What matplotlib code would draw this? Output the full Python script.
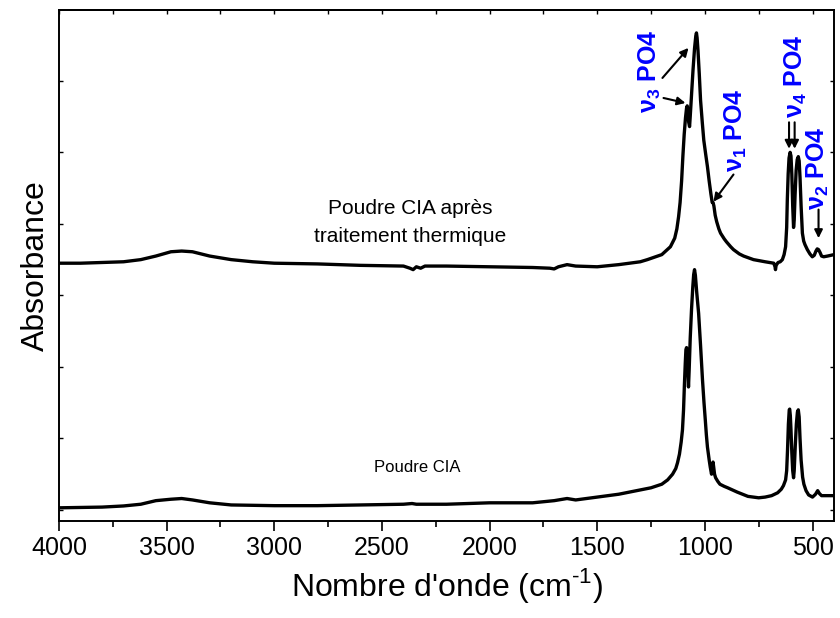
import matplotlib
matplotlib.use("Agg")
import matplotlib.pyplot as plt
from matplotlib.ticker import MultipleLocator, NullFormatter

plt.rcParams['font.family'] = ['Liberation Sans', 'DejaVu Sans']
plt.rcParams['mathtext.fontset'] = 'custom'
plt.rcParams['mathtext.rm'] = 'Liberation Sans'
plt.rcParams['mathtext.bf'] = 'Liberation Sans:bold'

# Spectrum of the heat-treated powder (stacked above the raw one)
wn_treated = [4000, 3900, 3800, 3700, 3620, 3550, 3480, 3430, 3380, 3300, 3200, 3100,
              3000, 2800, 2600, 2400, 2370, 2355, 2340, 2320, 2300, 2200, 2000, 1800,
              1720, 1700, 1680, 1640, 1600, 1500, 1400, 1300, 1267, 1200, 1160, 1140,
              1130, 1122, 1115, 1108, 1102, 1096, 1090, 1085, 1082, 1079, 1075, 1071,
              1068, 1062, 1055, 1048, 1042, 1039, 1036, 1032, 1026, 1020, 1012, 1005,
              996, 988, 980, 972, 966, 962, 958, 952, 945, 935, 927, 910, 900, 880,
              867, 840, 820, 774, 720, 680, 674, 672, 669, 660, 650, 640, 632, 625,
              620, 617, 613, 609, 604, 600, 596, 592, 588, 585, 581, 576, 571, 566,
              562, 558, 553, 547, 541, 535, 524, 512, 501, 492, 484, 478, 472, 465,
              458, 448, 430, 400]
abs_treated = [3.45, 3.45, 3.46, 3.47, 3.50, 3.55, 3.61, 3.62, 3.61, 3.55, 3.50, 3.47,
               3.45, 3.44, 3.42, 3.41, 3.38, 3.36, 3.40, 3.38, 3.41, 3.41, 3.40, 3.39,
               3.38, 3.37, 3.40, 3.43, 3.41, 3.40, 3.43, 3.47, 3.50, 3.57, 3.68, 3.80,
               3.93, 4.10, 4.30, 4.60, 4.95, 5.25, 5.48, 5.62, 5.65, 5.60, 5.42, 5.36,
               5.50, 5.80, 6.15, 6.45, 6.63, 6.67, 6.60, 6.43, 6.10, 5.73, 5.42, 5.17,
               4.97, 4.80, 4.60, 4.42, 4.30, 4.30, 4.25, 4.12, 4.03, 3.93, 3.87, 3.79,
               3.75, 3.68, 3.64, 3.58, 3.55, 3.50, 3.47, 3.45, 3.40, 3.36, 3.42, 3.46,
               3.47, 3.50, 3.57, 3.68, 3.95, 4.34, 4.70, 4.92, 5.00, 4.95, 4.69, 4.25,
               3.95, 4.05, 4.40, 4.75, 4.90, 4.94, 4.88, 4.65, 4.25, 3.87, 3.76, 3.71,
               3.64, 3.58, 3.54, 3.56, 3.62, 3.65, 3.64, 3.60, 3.55, 3.54, 3.55, 3.57]

# Spectrum of the raw powder
wn_raw = [4000, 3900, 3800, 3700, 3620, 3550, 3480, 3430, 3380, 3300, 3200, 3000,
          2800, 2600, 2400, 2360, 2340, 2200, 2000, 1900, 1800, 1700, 1640, 1600,
          1500, 1400, 1300, 1250, 1200, 1173, 1150, 1135, 1127, 1118, 1110, 1104,
          1099, 1095, 1091, 1088, 1085, 1082, 1079, 1076, 1073, 1068, 1062, 1056,
          1052, 1048, 1044, 1038, 1029, 1020, 1011, 1004, 998, 993, 988, 980, 975,
          969, 965, 962, 959, 955, 950, 940, 930, 910, 894, 850, 800, 750, 720, 690,
          662, 645, 635, 625, 620, 616, 612, 608, 606, 603, 600, 596, 592, 588, 585,
          580, 575, 570, 566, 562, 558, 553, 546, 540, 530, 518, 500, 486, 476, 468,
          458, 440, 400]
abs_raw = [0.03, 0.035, 0.04, 0.056, 0.08, 0.13, 0.15, 0.16, 0.14, 0.10, 0.07, 0.06,
           0.06, 0.07, 0.08, 0.09, 0.08, 0.08, 0.10, 0.10, 0.10, 0.13, 0.16, 0.14,
           0.18, 0.22, 0.28, 0.31, 0.36, 0.42, 0.50, 0.58, 0.66, 0.78, 0.95, 1.12,
           1.40, 1.75, 2.05, 2.24, 2.27, 2.18, 1.95, 1.72, 1.95, 2.40, 2.80, 3.12,
           3.29, 3.36, 3.28, 3.05, 2.75, 2.30, 1.82, 1.50, 1.26, 1.05, 0.88, 0.70, 0.60,
           0.50, 0.60, 0.67, 0.60, 0.50, 0.45, 0.40, 0.36, 0.33, 0.31, 0.25, 0.19, 0.17,
           0.18, 0.20, 0.24, 0.29, 0.34, 0.42, 0.55, 0.84, 1.20, 1.40, 1.41, 1.32, 1.12,
           0.80, 0.55, 0.45, 0.55, 0.90, 1.20, 1.37, 1.40, 1.30, 1.00, 0.70, 0.46, 0.36,
           0.27, 0.21, 0.18, 0.22, 0.27, 0.23, 0.20, 0.20, 0.20]

x_ticks = [4000, 3500, 3000, 2500, 2000, 1500, 1000, 500]

# Band assignments: label text, label position, arrows (tail -> head)
band_labels = [r"$\mathbf{ν_3}$ PO4", r"$\mathbf{ν_1}$ PO4", r"$\mathbf{ν_4}$ PO4", r"$\mathbf{ν_2}$ PO4"]
band_label_pos = [(1255, 6.13), (857, 5.31), (578, 6.07), (476, 4.78)]
band_arrows = [((1197, 6.04), (1076, 6.46)),
               ((1192, 5.76), (1090, 5.69)),
               ((867, 4.69), (960, 4.31)),
               ((609, 5.42), (609, 5.05)),
               ((583, 5.42), (583, 5.05)),
               ((472, 4.20), (472, 3.80))]

fig = plt.figure(figsize=(8.4, 6.18), dpi=100)
ax = fig.add_axes([0.0702, 0.157, 0.9227, 0.8268])

ax.plot(wn_treated, abs_treated, color='black', lw=2.4, solid_joinstyle='round')
ax.plot(wn_raw, abs_raw, color='black', lw=2.4, solid_joinstyle='round')

ax.set_xlim(4000, 400)
ax.set_ylim(-0.154, 6.99)

ax.set_xticks(x_ticks)
ax.set_xticklabels([str(t) for t in x_ticks])
ax.xaxis.set_minor_locator(MultipleLocator(250))
ax.yaxis.set_major_locator(MultipleLocator(1))
ax.yaxis.set_major_formatter(NullFormatter())

ax.tick_params(axis='x', which='major', direction='out', length=7, width=1.2,
               labelsize=18, pad=4, top=False)
ax.tick_params(axis='x', which='minor', direction='out', length=4, width=1.2, top=False)
ax.tick_params(axis='y', which='major', direction='in', length=3, width=1.0,
               left=True, right=True)

# Inward ticks along the top edge
top = ax.secondary_xaxis('top')
top.set_xticks(list(range(4000, 399, -250)))
top.xaxis.set_major_formatter(NullFormatter())
top.tick_params(direction='in', length=3, width=1.0)

for s in ax.spines.values():
    s.set_linewidth(1.4)
for s in top.spines.values():
    s.set_linewidth(1.4)

ax.set_xlabel(r"Nombre d'onde (cm$^{\text{-1}}$)", fontsize=23, labelpad=4)
ax.set_ylabel("Absorbance", fontsize=23, labelpad=2)

ax.text(2368, 4.02, "Poudre CIA après\ntraitement thermique", fontsize=15,
        ha='center', va='center', linespacing=1.55)
ax.text(2336, 0.60, "Poudre CIA", fontsize=12, ha='center', va='center')

for txt, (x, y) in zip(band_labels, band_label_pos):
    ax.text(x, y, txt, color='#0000ff', fontsize=18, fontweight='bold',
            rotation=90, ha='center', va='center')

for (x0, y0), (x1, y1) in band_arrows:
    ax.annotate("", xy=(x1, y1), xytext=(x0, y0),
                arrowprops=dict(arrowstyle='-|>', color='black', lw=1.5,
                                mutation_scale=12, shrinkA=0, shrinkB=0))

fig.savefig("out.png", dpi=100)
